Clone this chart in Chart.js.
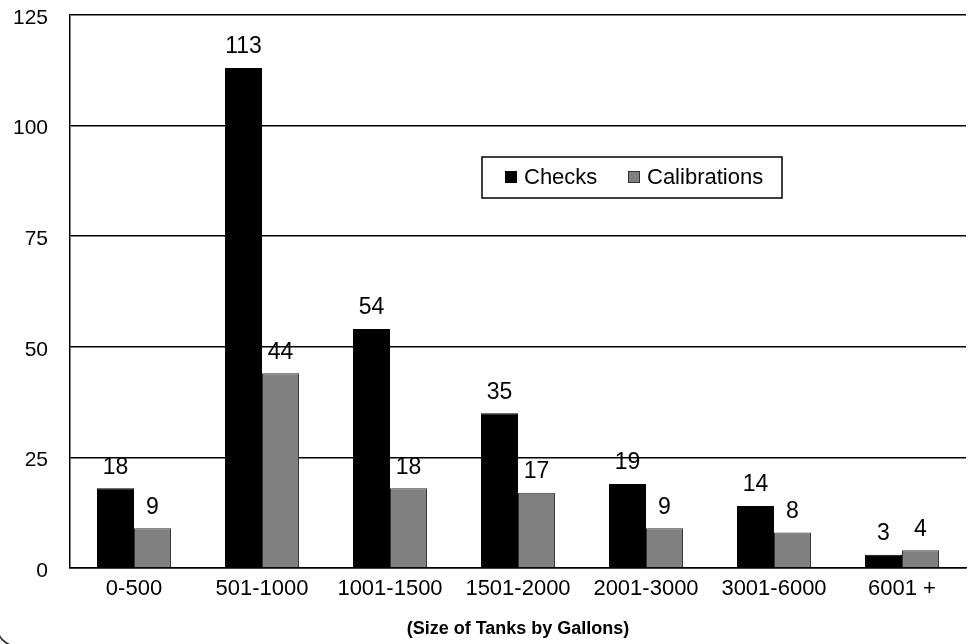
<!DOCTYPE html>
<html>
<head>
<meta charset="utf-8">
<script src="https://cdn.jsdelivr.net/npm/chart.js@4/dist/chart.umd.min.js"></script>
<style>
  html, body { margin: 0; padding: 0; background: #ffffff; }
  canvas { display: block; }
</style>
</head>
<body>
<canvas id="chart" width="972" height="644"></canvas>
<script>
// Tank size bands and the number of checks / calibrations in each
const categories = ['0-500', '501-1000', '1001-1500', '1501-2000', '2001-3000', '3001-6000', '6001 +'];
const checks = [18, 113, 54, 35, 19, 14, 3];
const calibrations = [9, 44, 18, 17, 9, 8, 4];
const yTicks = [0, 25, 50, 75, 100, 125];
const seriesNames = ['Checks', 'Calibrations'];
const xTitle = '(Size of Tanks by Gallons)';

const FONT = "'Liberation Sans', Arial, Helvetica, sans-serif";

// Value labels above each bar
const valueLabels = {
  id: 'valueLabels',
  afterDatasetsDraw(chart) {
    const ctx = chart.ctx;
    ctx.save();
    ctx.font = '23px ' + FONT;
    ctx.fillStyle = '#000';
    ctx.textAlign = 'center';
    ctx.textBaseline = 'middle';
    chart.data.datasets.forEach((ds, di) => {
      chart.getDatasetMeta(di).data.forEach((bar, i) => {
        ctx.fillText(String(ds.data[i]), bar.x, bar.y - 21);
      });
    });
    ctx.restore();
  }
};

// Boxed legend inside the plot, plus the rounded frame corner
const boxLegend = {
  id: 'boxLegend',
  afterDraw(chart) {
    const ctx = chart.ctx;
    ctx.save();
    ctx.fillStyle = '#fff';
    ctx.fillRect(482, 157, 300, 41);
    ctx.strokeStyle = '#000';
    ctx.lineWidth = 1.5;
    ctx.strokeRect(482, 157, 300, 41);
    ctx.font = '22px ' + FONT;
    ctx.textBaseline = 'middle';
    ctx.textAlign = 'left';
    const items = [
      { x: 505, ds: chart.data.datasets[0] },
      { x: 628, ds: chart.data.datasets[1] }
    ];
    items.forEach(it => {
      ctx.fillStyle = it.ds.backgroundColor;
      ctx.fillRect(it.x, 171, 12, 12);
      ctx.lineWidth = 1;
      ctx.strokeStyle = it.ds.borderColor;
      ctx.strokeRect(it.x + 0.5, 171.5, 11, 11);
      ctx.fillStyle = '#000';
      ctx.fillText(it.ds.label, it.x + 19, 178);
    });

    // frame corner, bottom left
    ctx.beginPath();
    ctx.strokeStyle = '#222';
    ctx.lineWidth = 1.5;
    ctx.arc(17, 626, 20, Math.PI * 0.5, Math.PI);
    ctx.stroke();
    ctx.restore();
  }
};

new Chart(document.getElementById('chart'), {
  type: 'bar',
  data: {
    labels: categories,
    datasets: [
      {
        label: seriesNames[0],
        data: checks,
        backgroundColor: '#000000',
        borderColor: '#000000',
        borderWidth: 1,
        categoryPercentage: 0.578,
        barPercentage: 1.0
      },
      {
        label: seriesNames[1],
        data: calibrations,
        backgroundColor: '#808080',
        borderColor: '#333333',
        borderWidth: 1,
        categoryPercentage: 0.578,
        barPercentage: 1.0
      }
    ]
  },
  options: {
    responsive: false,
    animation: false,
    devicePixelRatio: 1,
    layout: { padding: { top: 15, right: 6, bottom: 0, left: 0 } },
    plugins: {
      legend: { display: false },
      tooltip: { enabled: false }
    },
    scales: {
      x: {
        grid: { display: false, drawTicks: false },
        border: { display: true, color: '#000', width: 1.5 },
        ticks: { color: '#000', font: { family: FONT, size: 22 }, padding: 8, maxRotation: 0, autoSkip: false },
        title: {
          display: true,
          text: xTitle,
          color: '#000',
          font: { family: FONT, size: 18, weight: 'bold' },
          padding: { top: 6, bottom: 4 }
        },
        afterFit(scale) { scale.height = 76; }
      },
      y: {
        min: 0,
        max: 125,
        afterBuildTicks(scale) { scale.ticks = yTicks.map(v => ({ value: v })); },
        grid: { color: '#000', lineWidth: 1.5, drawTicks: false },
        border: { display: true, color: '#000', width: 1.5 },
        ticks: { color: '#000', font: { family: FONT, size: 21 }, padding: 22, labelOffset: 3 },
        afterFit(scale) {
          scale.width = 70;
          scale.paddingTop = 0;
          scale.paddingBottom = 0;
        }
      }
    }
  },
  plugins: [valueLabels, boxLegend]
});
</script>
</body>
</html>
